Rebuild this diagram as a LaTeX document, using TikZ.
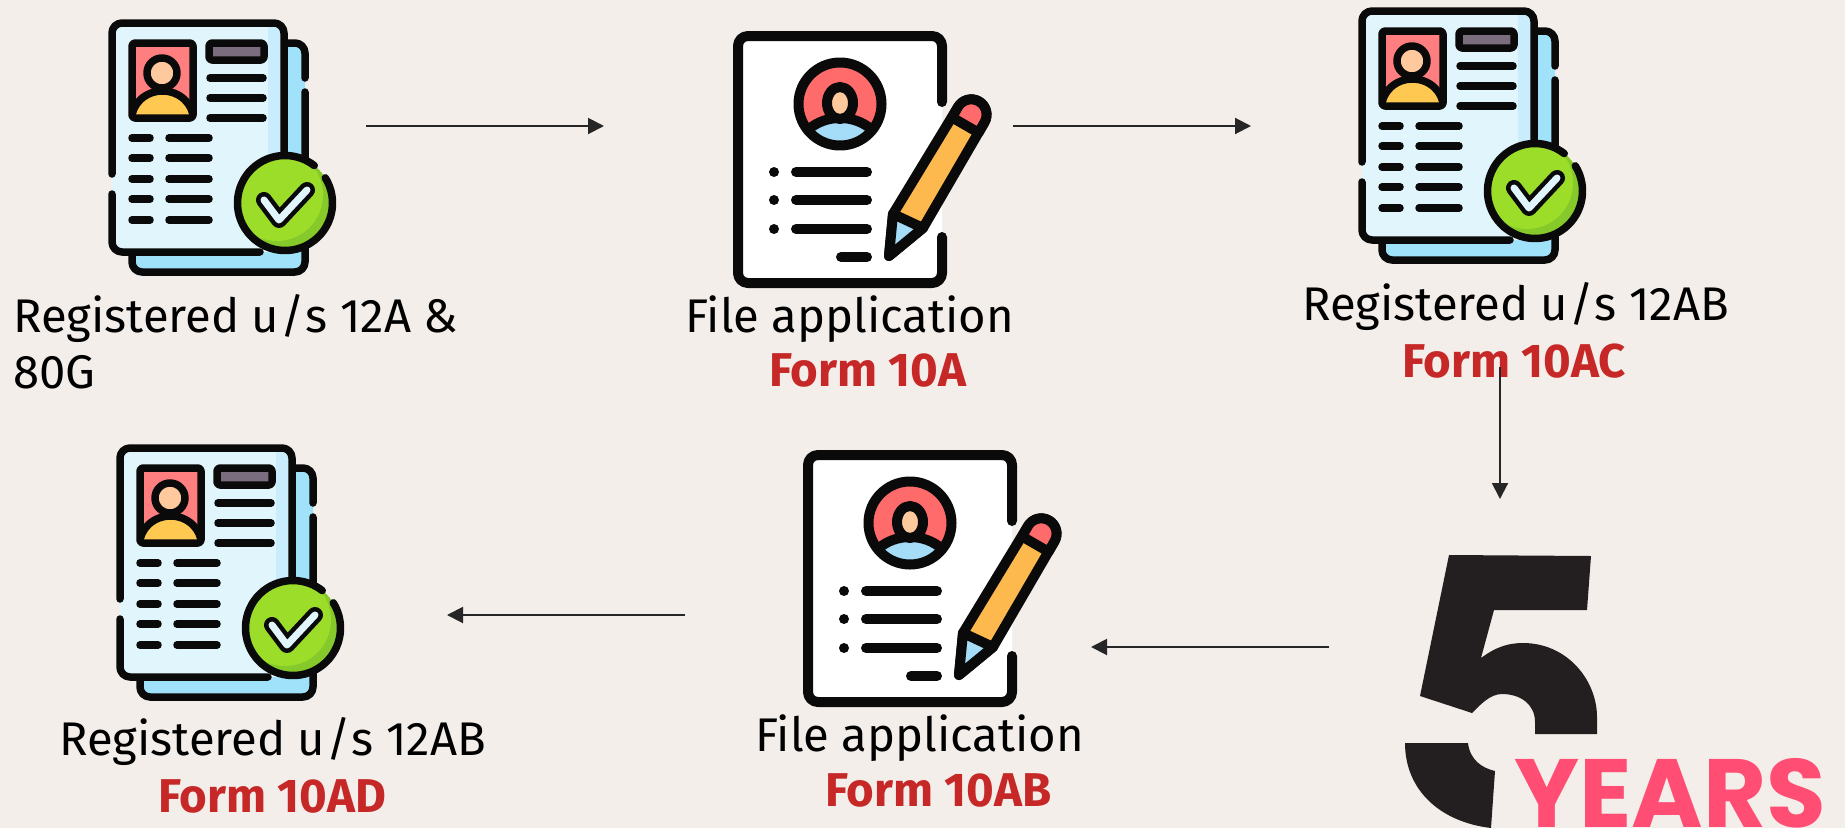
\documentclass[tikz,border=0pt]{standalone}
\usepackage{fontspec}
\setmainfont{Fira Sans}
\newfontfamily\yearsfont{Poppins}
\usetikzlibrary{positioning, arrows.meta, calc}

\definecolor{paper}{HTML}{F4EEEA}
\definecolor{inkline}{HTML}{0A0A0A}
\definecolor{sheetfront}{HTML}{E1F5FD}
\definecolor{sheetshade}{HTML}{C9EDFC}
\definecolor{sheetback}{HTML}{9FE2FA}
\definecolor{photored}{HTML}{FF7F80}
\definecolor{skin}{HTML}{FFC99E}
\definecolor{shirt}{HTML}{FFC850}
\definecolor{barfill}{HTML}{7A6E7E}
\definecolor{okgreen}{HTML}{9CDD2A}
\definecolor{okdark}{HTML}{86C92B}
\definecolor{pencilbody}{HTML}{FDB84E}
\definecolor{avatarred}{HTML}{FF6B6B}
\definecolor{avatarblue}{HTML}{A5DCF8}
\definecolor{formred}{HTML}{C62828}
\definecolor{fiveblack}{HTML}{231F20}
\definecolor{yearspink}{HTML}{FF4D73}

\begin{document}
\begin{tikzpicture}[
                x=1pt, y=-1pt,
                >=Stealth,
                iconline/.style={draw=inkline, line width=7.5pt, line cap=round, line join=round},
                hub/.style={minimum height=20pt, inner sep=0pt, outer sep=0pt},
                arrow/.style={draw=black!85, line width=2pt, -{Triangle[length=16pt, width=16pt]}},
                caption/.style={anchor=base west, inner sep=0pt, font=\fontsize{47.2}{56}\selectfont, text=black},
                formname/.style={anchor=base west, inner sep=0pt, font=\fontsize{47.4}{54}\selectfont\bfseries, text=formred},
                regdoc/.pic={
                    % back sheet, then front sheet
                    \path[fill=sheetback] (42,43) -- (205,43) arc[start angle=-90, end angle=0, radius=10] -- (215,262) arc[start angle=0, end angle=90, radius=10] -- (52,272) arc[start angle=90, end angle=180, radius=10] -- cycle;
                    \draw[iconline] (215,78) -- (215,53) arc[start angle=0, end angle=-90, radius=10] -- (190,43);
                    \draw[iconline] (215,92) -- (215,262) arc[start angle=0, end angle=90, radius=10] -- (52,272) arc[start angle=90, end angle=180, radius=10] -- (42,252);
                    \path[fill=sheetfront] (32,23) -- (184,23) arc[start angle=-90, end angle=0, radius=10] -- (194,242) arc[start angle=0, end angle=90, radius=10] -- (32,252) arc[start angle=90, end angle=180, radius=10] -- (22,33) arc[start angle=180, end angle=270, radius=10] -- cycle;
                    \path[fill=sheetshade] (178,27) -- (191,27) -- (191,160) -- (178,160) -- cycle;
                    \draw[iconline] (22,174) -- (22,33) arc[start angle=180, end angle=270, radius=10] -- (184,23) arc[start angle=-90, end angle=0, radius=10] -- (194,160);
                    \draw[iconline] (22,194) -- (22,242) arc[start angle=180, end angle=90, radius=10] -- (170,252);
                    % photo
                    \fill[photored] (42,43) rectangle (103,118);
                    \begin{scope}
                        \clip (42,43) rectangle (103,118);
                        \draw[iconline, fill=shirt] (72.5,120) ellipse[x radius=31, y radius=29];
                    \end{scope}
                    \draw[iconline, fill=none, rounded corners=3pt] (42,43) rectangle (103,118);
                    \draw[iconline, fill=skin] (72,73) circle[radius=15];
                    % grey bar and text lines
                    \draw[iconline, fill=barfill, rounded corners=3pt] (119,43) rectangle (174,60);
                    \foreach \y in {78, 98, 118}
                        \draw[iconline] (120,\y) -- (173,\y);
                    \foreach \y in {138, 158, 179, 199, 220} {
                        \draw[iconline] (42,\y) -- (60,\y);
                        \draw[iconline] (79,\y) -- (119,\y);
                    }
                    % green badge with tick
                    \fill[okgreen] (195,203) circle[radius=47.5];
                    \begin{scope}
                        \clip (195,203) circle[radius=47.5];
                        \fill[okdark] (195,203) circle[radius=47.5];
                        \fill[okgreen] (187,195) circle[radius=46];
                    \end{scope}
                    \draw[iconline] (195,203) ++(-32:47.5) arc[start angle=-32, end angle=308, radius=47.5];
                    \draw[iconline, line width=16pt] (174,200) -- (189,220) -- (217,190);
                    \draw[sheetfront, line width=7pt, line cap=round, line join=round] (174,200) -- (189,220) -- (217,190);
                },
                filedoc/.pic={
                    % white sheet with gaps for the pencil
                    \path[fill=white] (38,26) -- (222,26) arc[start angle=-90, end angle=0, radius=10] -- (232,263) arc[start angle=0, end angle=90, radius=10] -- (38,273) arc[start angle=90, end angle=180, radius=10] -- (28,36) arc[start angle=180, end angle=270, radius=10] -- cycle;
                    \draw[iconline, line width=10pt] (232,92) -- (232,36) arc[start angle=0, end angle=-90, radius=10] -- (38,26) arc[start angle=270, end angle=180, radius=10] -- (28,263) arc[start angle=180, end angle=90, radius=10] -- (222,273) arc[start angle=90, end angle=0, radius=10] -- (232,227);
                    % avatar
                    \fill[avatarred] (130,94) circle[radius=41.5];
                    \begin{scope}
                        \clip (130,94) circle[radius=41.5];
                        \draw[iconline, line width=10pt, fill=avatarblue] (130,146) ellipse[x radius=44, y radius=38];
                    \end{scope}
                    \draw[iconline, line width=10pt] (130,94) circle[radius=41.5];
                    \draw[iconline, line width=10pt, fill=skin] (130,93) ellipse[x radius=13, y radius=16];
                    % bullet list
                    \foreach \y in {162, 190, 219} {
                        \fill[inkline] (64,\y) circle[radius=5];
                        \draw[iconline, line width=10pt] (86,\y) -- (157,\y);
                    }
                    \draw[iconline, line width=10pt] (131,247) -- (157,247);
                    % pencil
                    \draw[iconline, line width=10pt, fill=pencilbody] (179,246) -- (183,204) -- (248,97) arc[start angle=210, end angle=390, radius=15.3] -- (213,218) -- cycle;
                    \path[fill=avatarred] (242,107.4) -- (248,97) arc[start angle=210, end angle=390, radius=15.3] -- (268.5,122.7) -- cycle;
                    \draw[iconline, line width=10pt] (242,107.4) -- (248,97) arc[start angle=210, end angle=390, radius=15.3] -- (268.5,122.7) -- cycle;
                    \draw[iconline, line width=10pt, fill=avatarblue] (179,246) -- (183,204) -- (213,218) -- cycle;
                },
            ]
                \fill[paper] (0,0) rectangle (1845,828);
                \clip (0,0) rectangle (1845,828);

                % Draw the registered-document icons
                \foreach \px / \py in {90/0, 1340/-12, 98/425}
                    \pic at (\px,\py) {regdoc};

                % Draw the application-form icons
                \foreach \px / \py in {710/10, 780/429}
                    \pic at (\px,\py) {filedoc};

                % The big five
                \fill[fiveblack] (1449,555) -- (1591,556) -- (1587,610) -- (1494,610) -- (1481,658) .. controls (1497,646) and (1510,643) .. (1523,643) .. controls (1567,643) and (1597,680) .. (1597,717) -- (1597,734) -- (1535,734) -- (1535,722) .. controls (1535,704) and (1520,694) .. (1502,694) .. controls (1490,694) and (1480,705) .. (1472,713) -- (1420,696) -- cycle;
                \fill[fiveblack] (1405,743) -- (1468,743) .. controls (1470,760) and (1482,768) .. (1495,771) -- (1491,828) .. controls (1440,822) and (1405,790) .. (1405,743) -- cycle;
                \node[anchor=base west, inner sep=0pt, text=yearspink, font=\fontsize{97}{97}\yearsfont\bfseries] (years) at (1514,827) {YEARS};

                % Captions
                \foreach \tx / \ty / \name / \txt in {13/332/capA/{Registered u\kern1pt/\kern1pt s 12A \&}, 13/388/capB/80G, 685/332/capC/File application, 1302/320/capD/{Registered u\kern1pt/\kern1pt s 12AB}, 59/755/capE/{Registered u\kern1pt/\kern1pt s 12AB}, 755/751/capF/File application}
                    \node[caption] (\name) at (\tx,\ty) {\txt};

                \foreach \tx / \ty / \name / \txt in {769/386/formA/Form 10A, 1402/377/formB/Form 10AC, 825/806/formC/Form 10AB, 158/812/formD/Form 10AD}
                    \node[formname] (\name) at (\tx,\ty) {\txt};

                % Connection points of the icons
                \node[hub, minimum width=258pt] (reg-A) at (237,126) {};
                \node[hub, minimum width=409pt] (file-A) at (808.5,126) {};
                \node[hub, minimum width=100pt] (reg-B) at (1301,126) {};
                \coordinate (reg-B-text) at (1500,367);
                \node[hub, minimum width=100pt, minimum height=40pt] (five) at (1500,519) {};
                \node[hub, minimum width=100pt] (five-left) at (1379,647) {};
                \node[hub, minimum width=100pt] (file-B) at (1041,647) {};
                \node[hub, minimum width=100pt] (file-B-left) at (735,615) {};
                \node[hub, minimum width=100pt] (reg-C) at (397,615) {};

                % Connect every step with the next one
                \draw[arrow] (reg-A.east) -- (file-A.west);
                \draw[arrow] (file-A.east) -- (reg-B.west);
                \draw[arrow] (reg-B-text) -- (five.north);
                \draw[arrow] (five-left.west) -- (file-B.east);
                \draw[arrow] (file-B-left.west) -- (reg-C.east);
            \end{tikzpicture}
\end{document}
